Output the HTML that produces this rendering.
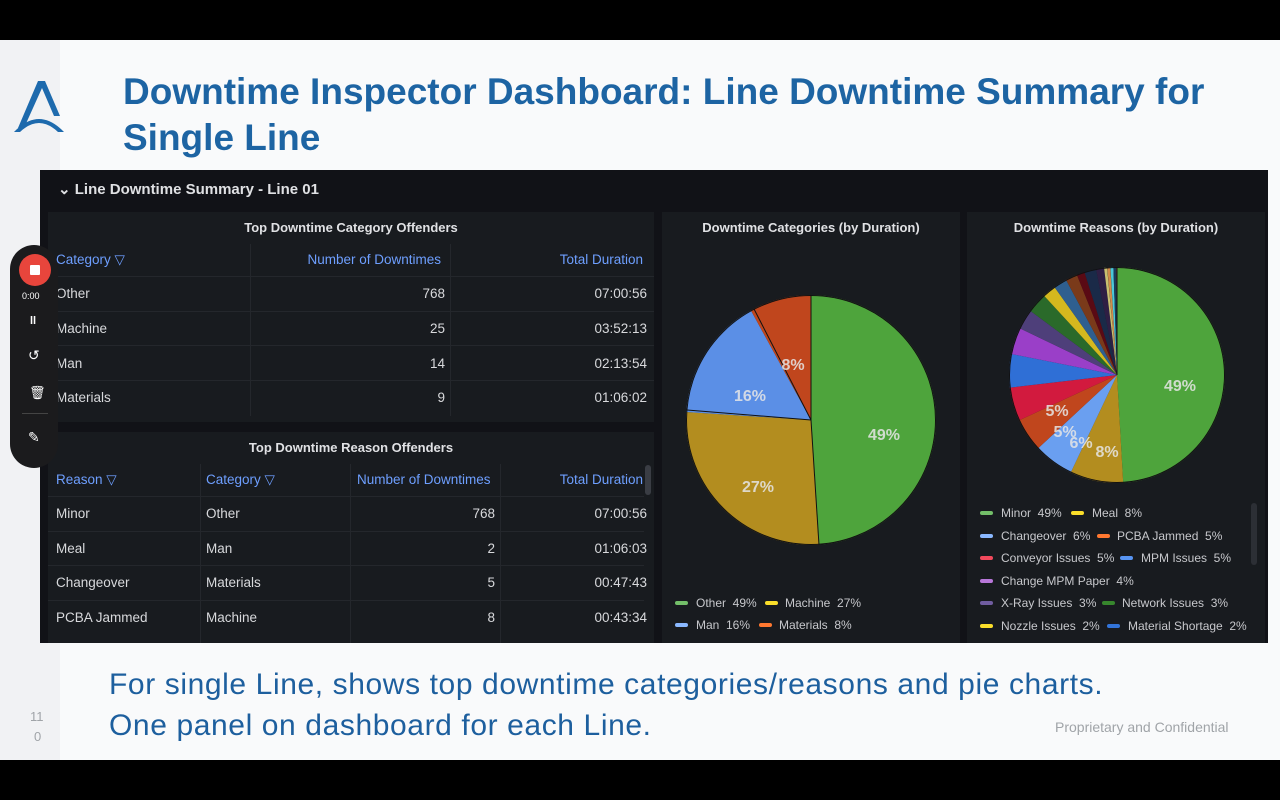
<!DOCTYPE html>
<html><head><meta charset="utf-8"><style>
*{margin:0;padding:0;box-sizing:border-box}
body{width:1280px;height:800px;background:#000;position:relative;overflow:hidden;font-family:"Liberation Sans",sans-serif}
.a{position:absolute;white-space:nowrap}
.slide{position:absolute;left:0;top:40px;width:1280px;height:720px;background:#f9fafb}
.strip{position:absolute;left:0;top:40px;width:60px;height:720px;background:#f1f2f4}
.title{color:#1d64a3;font-weight:bold;font-size:37px;left:123px}
.dash{position:absolute;left:40px;top:170px;width:1228px;height:473px;background:#111217}
.panel{position:absolute;background:#181b1f}
.t{color:#d8d9dc;font-size:13.5px;line-height:16px}
.h{color:#6e9fff;font-size:13.5px;line-height:16px}
.pt{color:#e0e1e4;font-size:13px;font-weight:bold;line-height:16px}
.r{text-align:right}
.row{position:absolute;height:1px;background:#24272c}
.lg{color:#c7c8cc;font-size:12px;line-height:14px}
.sw{position:absolute;width:13px;height:4px;border-radius:2px}
.pl{fill:#e6e6e6;font-size:16px;font-weight:bold;font-family:"Liberation Sans",sans-serif;text-anchor:middle;opacity:.85}
.bt{color:#1d5f9e;font-size:30px;left:109px;letter-spacing:0.6px}
</style></head><body>
<div class="slide"></div><div class="strip"></div>
<svg class="a" style="left:12px;top:78px" width="54" height="56"><path d="M6 50 L26 3 L33 3 L48 38 L42 38 L30 10 L12 50Z" fill="#1d6aad"/><path d="M2 54 Q27 28 52 54 L46 54 Q27 36 8 54Z" fill="#1d6aad"/></svg>
<div class="a title" style="top:71px">Downtime Inspector Dashboard: Line Downtime Summary for</div>
<div class="a title" style="top:117px">Single Line</div>

<div class="dash">
<div class="a" style="left:18px;top:10px;color:#e0e1e4;font-size:15px;font-weight:bold">⌄ Line Downtime Summary - Line 01</div>
</div>
<div class="panel" style="left:48px;top:212px;width:606px;height:210px"></div>
<div class="a pt" style="left:48px;top:220px;width:606px;text-align:center">Top Downtime Category Offenders</div>
<div class="a" style="left:250px;top:244px;width:1px;height:172px;background:#24272c"></div>
<div class="a" style="left:450px;top:244px;width:1px;height:172px;background:#24272c"></div>
<div class="a h" style="left:56px;top:252px">Category ▽</div>
<div class="a h r" style="left:250px;top:252px;width:191px">Number of Downtimes</div>
<div class="a h r" style="left:450px;top:252px;width:193px">Total Duration</div>
<div class="row" style="left:48px;top:276px;width:606px"></div>
<div class="row" style="left:48px;top:311px;width:606px"></div>
<div class="row" style="left:48px;top:345px;width:606px"></div>
<div class="row" style="left:48px;top:380px;width:606px"></div>
<div class="a t" style="left:56px;top:286px">Other</div><div class="a t r" style="left:300px;top:286px;width:145px">768</div><div class="a t r" style="left:500px;top:286px;width:147px">07:00:56</div>
<div class="a t" style="left:56px;top:321px">Machine</div><div class="a t r" style="left:300px;top:321px;width:145px">25</div><div class="a t r" style="left:500px;top:321px;width:147px">03:52:13</div>
<div class="a t" style="left:56px;top:356px">Man</div><div class="a t r" style="left:300px;top:356px;width:145px">14</div><div class="a t r" style="left:500px;top:356px;width:147px">02:13:54</div>
<div class="a t" style="left:56px;top:390px">Materials</div><div class="a t r" style="left:300px;top:390px;width:145px">9</div><div class="a t r" style="left:500px;top:390px;width:147px">01:06:02</div>
<div class="panel" style="left:48px;top:432px;width:606px;height:211px"></div>
<div class="a pt" style="left:48px;top:440px;width:606px;text-align:center">Top Downtime Reason Offenders</div>
<div class="a" style="left:200px;top:464px;width:1px;height:179px;background:#24272c"></div>
<div class="a" style="left:350px;top:464px;width:1px;height:179px;background:#24272c"></div>
<div class="a" style="left:500px;top:464px;width:1px;height:179px;background:#24272c"></div>
<div class="a" style="left:645px;top:465px;width:6px;height:30px;border-radius:3px;background:#3a3d44"></div>
<div class="a h" style="left:56px;top:472px">Reason ▽</div>
<div class="a h" style="left:206px;top:472px">Category ▽</div>
<div class="a h" style="left:357px;top:472px;width:136px;overflow:hidden">Number of Downtimes</div>
<div class="a h r" style="left:500px;top:472px;width:143px">Total Duration</div>
<div class="row" style="left:48px;top:496px;width:596px"></div>
<div class="row" style="left:48px;top:531px;width:596px"></div>
<div class="row" style="left:48px;top:565px;width:596px"></div>
<div class="row" style="left:48px;top:600px;width:596px"></div>
<div class="a t" style="left:56px;top:506px">Minor</div><div class="a t" style="left:206px;top:506px">Other</div><div class="a t r" style="left:350px;top:506px;width:145px">768</div><div class="a t r" style="left:500px;top:506px;width:147px">07:00:56</div>
<div class="a t" style="left:56px;top:541px">Meal</div><div class="a t" style="left:206px;top:541px">Man</div><div class="a t r" style="left:350px;top:541px;width:145px">2</div><div class="a t r" style="left:500px;top:541px;width:147px">01:06:03</div>
<div class="a t" style="left:56px;top:575px">Changeover</div><div class="a t" style="left:206px;top:575px">Materials</div><div class="a t r" style="left:350px;top:575px;width:145px">5</div><div class="a t r" style="left:500px;top:575px;width:147px">00:47:43</div>
<div class="a t" style="left:56px;top:610px">PCBA Jammed</div><div class="a t" style="left:206px;top:610px">Machine</div><div class="a t r" style="left:350px;top:610px;width:145px">8</div><div class="a t r" style="left:500px;top:610px;width:147px">00:43:34</div>

<div class="panel" style="left:662px;top:212px;width:298px;height:431px"></div>
<div class="a pt" style="left:662px;top:220px;width:298px;text-align:center">Downtime Categories (by Duration)</div>
<svg class="a" style="left:686px;top:295px" width="250" height="250" viewBox="0 0 250 250">
<g transform="rotate(-90 125 125)" fill="none" stroke-width="125">
<circle cx="125" cy="125" r="62.5" stroke="#4ea43c" stroke-dasharray="192.4 400" stroke-dashoffset="0"/>
<circle cx="125" cy="125" r="62.5" stroke="#b38d1f" stroke-dasharray="106 400" stroke-dashoffset="-192.4"/>
<circle cx="125" cy="125" r="62.5" stroke="#5b8fe6" stroke-dasharray="62.8 400" stroke-dashoffset="-298.4"/>
<circle cx="125" cy="125" r="62.5" stroke="#c0461d" stroke-dasharray="31.5 400" stroke-dashoffset="-361.2"/>
</g>
<circle cx="125" cy="125" r="124.5" fill="none" stroke="#111" stroke-width="1"/>
<line x1="125" y1="125" x2="125" y2="0" stroke="#111"/>
<line x1="125" y1="125" x2="133" y2="250" stroke="#111"/>
<line x1="125" y1="125" x2="1" y2="115" stroke="#111"/>
<line x1="125" y1="125" x2="68" y2="14" stroke="#111"/>
<text class="pl" x="198" y="145">49%</text><text class="pl" x="72" y="197">27%</text>
<text class="pl" x="64" y="106">16%</text><text class="pl" x="107" y="75">8%</text>
</svg>
<div class="sw" style="left:675px;top:601px;background:#73bf69"></div><div class="a lg" style="left:696px;top:596px">Other&nbsp; 49%</div>
<div class="sw" style="left:765px;top:601px;background:#fade2a"></div><div class="a lg" style="left:785px;top:596px">Machine&nbsp; 27%</div>
<div class="sw" style="left:675px;top:623px;background:#8ab8ff"></div><div class="a lg" style="left:696px;top:618px">Man&nbsp; 16%</div>
<div class="sw" style="left:759px;top:623px;background:#ff7830"></div><div class="a lg" style="left:779px;top:618px">Materials&nbsp; 8%</div>

<div class="panel" style="left:967px;top:212px;width:298px;height:431px"></div>
<div class="a pt" style="left:967px;top:220px;width:298px;text-align:center">Downtime Reasons (by Duration)</div>
<svg class="a" style="left:1009px;top:267px" width="216" height="216" viewBox="0 0 216 216">
<g transform="rotate(-90 108 108)" fill="none" stroke-width="108">
<circle cx="108" cy="108" r="54" stroke="#4ea43c" stroke-dasharray="166.3 400" stroke-dashoffset="0"/>
<circle cx="108" cy="108" r="54" stroke="#b38d1f" stroke-dasharray="27.1 400" stroke-dashoffset="-166.3"/>
<circle cx="108" cy="108" r="54" stroke="#6a9ff0" stroke-dasharray="20.4 400" stroke-dashoffset="-193.4"/>
<circle cx="108" cy="108" r="54" stroke="#c0461d" stroke-dasharray="17 400" stroke-dashoffset="-213.8"/>
<circle cx="108" cy="108" r="54" stroke="#d21a3e" stroke-dasharray="17 400" stroke-dashoffset="-230.8"/>
<circle cx="108" cy="108" r="54" stroke="#2f6fd6" stroke-dasharray="17 400" stroke-dashoffset="-247.8"/>
<circle cx="108" cy="108" r="54" stroke="#9a3fc8" stroke-dasharray="13.6 400" stroke-dashoffset="-264.8"/>
<circle cx="108" cy="108" r="54" stroke="#4e3f7a" stroke-dasharray="10.2 400" stroke-dashoffset="-278.4"/>
<circle cx="108" cy="108" r="54" stroke="#2a6a2a" stroke-dasharray="10.2 400" stroke-dashoffset="-288.6"/>
<circle cx="108" cy="108" r="54" stroke="#d4b81e" stroke-dasharray="6.8 400" stroke-dashoffset="-298.8"/>
<circle cx="108" cy="108" r="54" stroke="#2f5f8f" stroke-dasharray="6.8 400" stroke-dashoffset="-305.6"/>
<circle cx="108" cy="108" r="54" stroke="#7a3a1a" stroke-dasharray="6 400" stroke-dashoffset="-312.4"/>
<circle cx="108" cy="108" r="54" stroke="#5a0a14" stroke-dasharray="4 400" stroke-dashoffset="-318.4"/>
<circle cx="108" cy="108" r="54" stroke="#1a2a48" stroke-dasharray="6 400" stroke-dashoffset="-322.4"/>
<circle cx="108" cy="108" r="54" stroke="#2e1f44" stroke-dasharray="4 400" stroke-dashoffset="-328.4"/>
<circle cx="108" cy="108" r="54" stroke="#c8c070" stroke-dasharray="1.5 400" stroke-dashoffset="-332.4"/>
<circle cx="108" cy="108" r="54" stroke="#d08a4a" stroke-dasharray="1.5 400" stroke-dashoffset="-334"/>
<circle cx="108" cy="108" r="54" stroke="#4ac8d8" stroke-dasharray="1.5 400" stroke-dashoffset="-335.6"/>
<circle cx="108" cy="108" r="54" stroke="#1a3a5a" stroke-dasharray="1.5 400" stroke-dashoffset="-337.1"/>
<circle cx="108" cy="108" r="54" stroke="#d05030" stroke-dasharray="0.8 400" stroke-dashoffset="-338.5"/>
</g>
<circle cx="108" cy="108" r="107.5" fill="none" stroke="#111" stroke-width="1"/>
<line x1="108" y1="108" x2="108" y2="0" stroke="#111"/>
<text class="pl" x="171" y="124">49%</text><text class="pl" x="98" y="190">8%</text>
<text class="pl" x="72" y="181">6%</text><text class="pl" x="56" y="170">5%</text><text class="pl" x="48" y="149">5%</text>
</svg>
<div class="a" style="left:1251px;top:503px;width:6px;height:62px;border-radius:3px;background:#2c2f35"></div>
<div class="sw" style="left:980px;top:511px;background:#73bf69"></div><div class="a lg" style="left:1001px;top:506px">Minor&nbsp; 49%</div>
<div class="sw" style="left:1071px;top:511px;background:#fade2a"></div><div class="a lg" style="left:1092px;top:506px">Meal&nbsp; 8%</div>
<div class="sw" style="left:980px;top:534px;background:#8ab8ff"></div><div class="a lg" style="left:1001px;top:529px">Changeover&nbsp; 6%</div>
<div class="sw" style="left:1097px;top:534px;background:#ff7830"></div><div class="a lg" style="left:1117px;top:529px">PCBA Jammed&nbsp; 5%</div>
<div class="sw" style="left:980px;top:556px;background:#f2495c"></div><div class="a lg" style="left:1001px;top:551px">Conveyor Issues&nbsp; 5%</div>
<div class="sw" style="left:1120px;top:556px;background:#5794f2"></div><div class="a lg" style="left:1141px;top:551px">MPM Issues&nbsp; 5%</div>
<div class="sw" style="left:980px;top:579px;background:#b877d9"></div><div class="a lg" style="left:1001px;top:574px">Change MPM Paper&nbsp; 4%</div>
<div class="sw" style="left:980px;top:601px;background:#705da0"></div><div class="a lg" style="left:1001px;top:596px">X-Ray Issues&nbsp; 3%</div>
<div class="sw" style="left:1102px;top:601px;background:#37872d"></div><div class="a lg" style="left:1122px;top:596px">Network Issues&nbsp; 3%</div>
<div class="sw" style="left:980px;top:624px;background:#fade2a"></div><div class="a lg" style="left:1001px;top:619px">Nozzle Issues&nbsp; 2%</div>
<div class="sw" style="left:1107px;top:624px;background:#3274d9"></div><div class="a lg" style="left:1128px;top:619px">Material Shortage&nbsp; 2%</div>

<div class="a" style="left:10px;top:245px;width:48px;height:223px;border-radius:24px;background:#1b1b1d"></div>
<div class="a" style="left:19px;top:254px;width:32px;height:32px;border-radius:50%;background:#e8453c"></div>
<div class="a" style="left:30px;top:265px;width:10px;height:10px;background:#fff;border-radius:1px"></div>
<div class="a" style="left:22px;top:291px;color:#fff;font-size:9px">0:00</div>
<div class="a" style="left:30px;top:315px;color:#fff;font-size:11px;font-weight:bold">ll</div>
<div class="a" style="left:28px;top:347px;color:#fff;font-size:14px">↺</div>
<div class="a" style="left:29px;top:385px;color:#fff;font-size:13px">🗑</div>
<div class="a" style="left:22px;top:413px;width:26px;height:1px;background:#444"></div>
<div class="a" style="left:28px;top:429px;color:#fff;font-size:14px">✎</div>

<div class="a bt" style="top:668px">For single Line, shows top downtime categories/reasons and pie charts.</div>
<div class="a bt" style="top:709px">One panel on dashboard for each Line.</div>
<div class="a" style="left:1055px;top:719px;color:#a0a4a8;font-size:14px">Proprietary and Confidential</div>
<div class="a" style="left:30px;top:709px;color:#a0a4a8;font-size:13px">11</div>
<div class="a" style="left:34px;top:729px;color:#a0a4a8;font-size:13px">0</div>
</body></html>
